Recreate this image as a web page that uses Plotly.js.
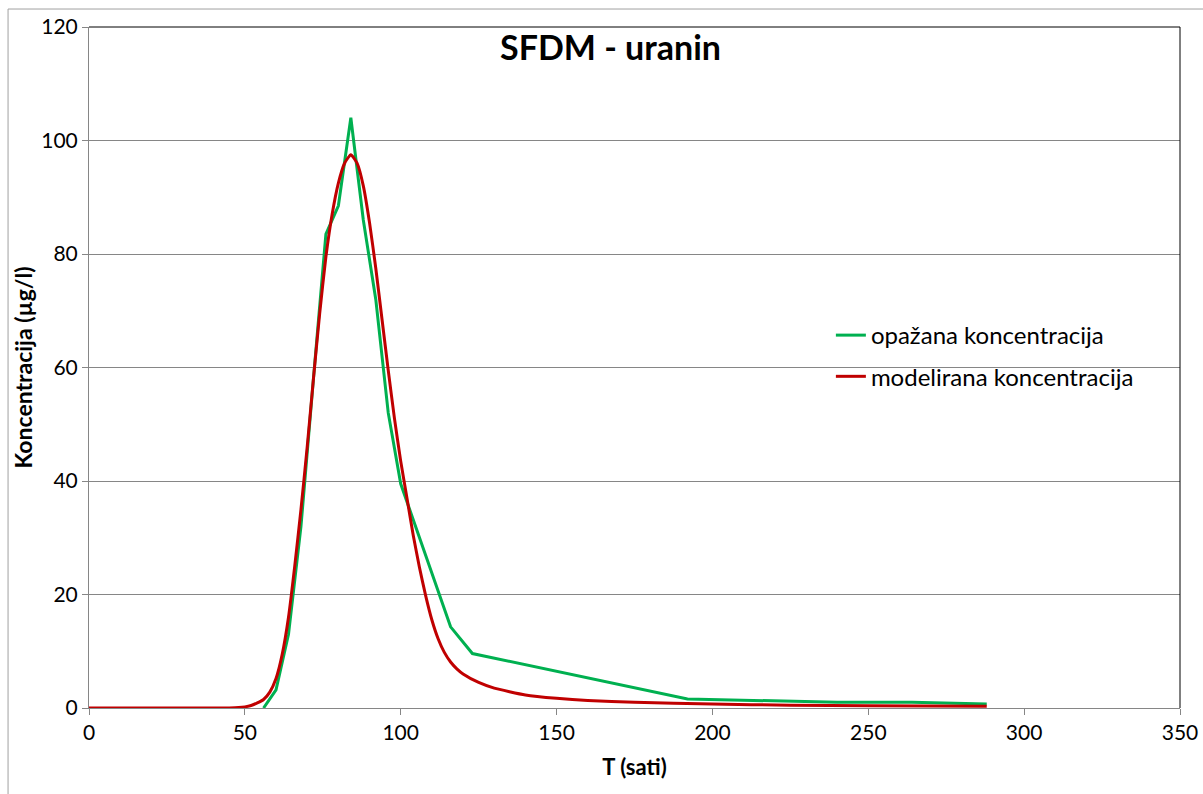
<!DOCTYPE html>
<html>
<head>
<meta charset="utf-8">
<script src="https://cdn.plot.ly/plotly-3.0.1.min.js"></script>
<style>html,body{margin:0;padding:0;background:#fff;}#chart{width:1203px;height:794px;}</style>
</head>
<body>
<div id="chart"></div>
<script>
// Observed concentration (opažana koncentracija)
const obsT = [56, 60, 64, 68, 72, 76, 80, 84, 88, 92, 96, 100, 116, 123, 192, 240, 264, 288];
const obsC = [0, 3.2, 13, 32, 58, 83.5, 88.5, 104, 86, 72, 52, 39.5, 14.3, 9.6, 1.6, 1.0, 1.0, 0.7];

// Modelled concentration (modelirana koncentracija)
const modT = [0, 10, 20, 30, 40, 45, 48, 50, 52, 54, 56, 58, 60, 62, 64, 66, 68, 70, 72, 74, 76, 78, 80, 82, 84,
              86, 88, 90, 92, 94, 96, 98, 100, 102, 104, 106, 108, 110, 112, 114, 116, 118, 120, 125, 130, 140,
              150, 160, 175, 200, 225, 250, 288];
const modC = [0, 0, 0, 0, 0, 0.02, 0.08, 0.2, 0.45, 0.9, 1.5, 2.8, 5.2, 9.5, 16, 25, 35, 46, 58, 69.5, 79.5, 87, 92.5, 96, 97.5,
              96, 92, 85.5, 77.5, 68.5, 59.5, 51, 43.5, 37, 30.5, 24.8, 19.8, 15.5, 12.2, 9.8, 8.1, 6.9, 6.0, 4.5, 3.5, 2.3,
              1.7, 1.3, 1.0, 0.7, 0.5, 0.4, 0.3];

const seriesNames = ['opažana koncentracija', 'modelirana koncentracija'];
const xTicks = [0, 50, 100, 150, 200, 250, 300, 350];
const yTicks = [0, 20, 40, 60, 80, 100, 120];

const FONT = 'Lato, "Open Sans", "Noto Sans", sans-serif';
const GRID = '#868686';

const traces = [
  {x: obsT, y: obsC, name: seriesNames[0], type: 'scatter', mode: 'lines',
   line: {color: '#00B050', width: 3}, legendgroup: 'a'},
  {x: modT, y: modC, name: seriesNames[1], type: 'scatter', mode: 'lines',
   line: {color: '#C00000', width: 3, shape: 'spline', smoothing: 0.5}, legendgroup: 'b'}
];

const layout = {
  width: 1203, height: 794,
  margin: {l: 89, r: 23, t: 27, b: 86},
  paper_bgcolor: '#ffffff', plot_bgcolor: '#ffffff',
  font: {family: FONT, color: '#000000', size: 21},
  showlegend: true,
  legend: {x: 0.68, y: 0.58, xanchor: 'left', yanchor: 'top', bgcolor: 'rgba(0,0,0,0)',
           font: {size: 24, family: FONT}, traceorder: 'grouped', tracegroupgap: 7, itemwidth: 30},
  xaxis: {range: [0, 350], tickvals: xTicks, ticks: 'outside', ticklen: 6, tickcolor: GRID,
          showline: true, linecolor: GRID, linewidth: 1, showgrid: false, zeroline: false,
          tickfont: {size: 21, family: FONT},
          title: {text: '<b>T (sati)</b>', font: {size: 22, family: FONT}, standoff: 16}},
  yaxis: {range: [0, 120], tickvals: yTicks, ticks: 'outside', ticklen: 6, tickcolor: GRID,
          showline: true, linecolor: GRID, linewidth: 1, showgrid: true, gridcolor: GRID, gridwidth: 1,
          zeroline: false, tickfont: {size: 21, family: FONT},
          title: {text: '<b>Koncentracija (µg/l)</b>', font: {size: 23, family: FONT}, standoff: 2}},
  annotations: [
    {text: '<b>SFDM - uranin</b>', xref: 'paper', yref: 'paper', x: 0.478, y: 0.971,
     xanchor: 'center', yanchor: 'middle', showarrow: false, font: {size: 34, family: FONT}}
  ],
  shapes: [
    {type: 'line', xref: 'paper', yref: 'paper', x0: 0, x1: 1, y0: 1, y1: 1, line: {color: '#000', width: 1}},
    {type: 'line', xref: 'paper', yref: 'paper', x0: 1, x1: 1, y0: 0, y1: 1, line: {color: '#000', width: 1}},
    {type: 'line', xref: 'paper', yref: 'paper', x0: -0.0742, x1: -0.0742, y0: -0.2, y1: 1.0264, line: {color: '#A0A0A0', width: 1}},
    {type: 'line', xref: 'paper', yref: 'paper', x0: -0.0742, x1: 1.03, y0: 1.0264, y1: 1.0264, line: {color: '#A0A0A0', width: 1}}
  ]
};

Plotly.newPlot('chart', traces, layout, {displayModeBar: false, staticPlot: true});
</script>
</body>
</html>
